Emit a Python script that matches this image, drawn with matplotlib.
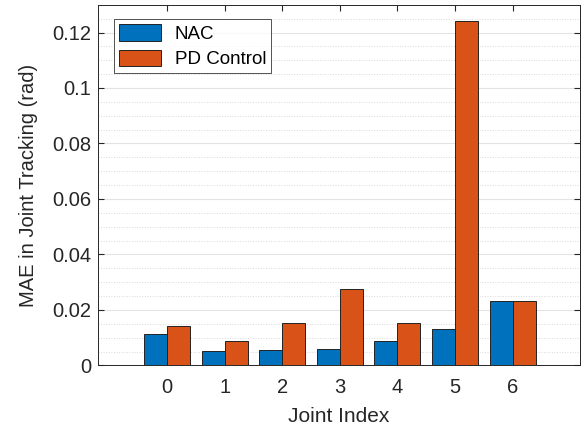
import numpy as np
import matplotlib.pyplot as plt
from matplotlib.ticker import MultipleLocator

plt.rcParams['font.family'] = ['Liberation Sans', 'DejaVu Sans']

# data
joints = [0, 1, 2, 3, 4, 5, 6]
nac = [0.0113, 0.0053, 0.0055, 0.0060, 0.0088, 0.0131, 0.0232]
pd_control = [0.0141, 0.0087, 0.0154, 0.0275, 0.0154, 0.1243, 0.0234]

x = np.array(joints)
w = 0.4

fig = plt.figure(figsize=(5.84, 4.33), dpi=100)
ax = fig.add_axes([0.168, 0.156, 0.825, 0.833])

ax.bar(x - w/2, nac, w, color='#0072BD', edgecolor='#222222', linewidth=0.7, label='NAC', zorder=3)
ax.bar(x + w/2, pd_control, w, color='#D95319', edgecolor='#222222', linewidth=0.7, label='PD Control', zorder=3)

ax.set_xlim(-1.2, 7.17)
ax.set_ylim(0, 0.13)
ax.set_xticks(joints)
ax.set_yticks([0, 0.02, 0.04, 0.06, 0.08, 0.1, 0.12])
ax.set_yticklabels(['0', '0.02', '0.04', '0.06', '0.08', '0.1', '0.12'])
ax.yaxis.set_minor_locator(MultipleLocator(0.005))

ax.grid(axis='y', which='major', color='#e3e3e3', linewidth=0.8, zorder=0)
ax.grid(axis='y', which='minor', color='#d8d8d8', linestyle=':', linewidth=0.7, zorder=0)

ax.tick_params(which='both', direction='in', top=True, right=True, labelsize=14.5, colors='#262626')
ax.tick_params(which='major', length=4)
ax.tick_params(which='minor', length=0)
ax.tick_params(axis='y', pad=5)
ax.tick_params(axis='x', pad=9)
for s in ax.spines.values():
    s.set_color('#262626')
    s.set_linewidth(0.7)

ax.set_xlabel('Joint Index', fontsize=15, color='#262626', labelpad=7)
ax.set_ylabel('MAE in Joint Tracking (rad)', fontsize=14.5, color='#262626', labelpad=10)

leg = ax.legend(loc='upper left', bbox_to_anchor=(0.033, 0.96), fontsize=13.5, frameon=True,
                fancybox=False, edgecolor='#262626', handlelength=2.24, handleheight=1.0,
                borderpad=0.25, labelspacing=0.37, handletextpad=0.75, borderaxespad=0)
leg.get_frame().set_linewidth(0.7)

fig.savefig('out.png', dpi=100)
